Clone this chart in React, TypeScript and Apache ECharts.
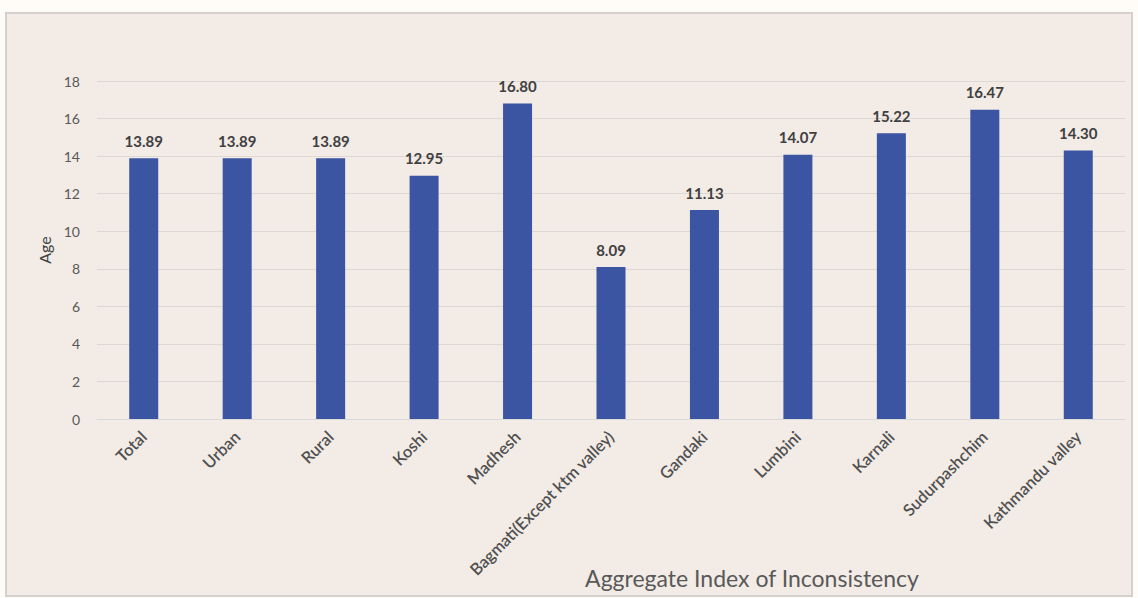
import React, { useEffect, useRef } from "react";
import * as echarts from "echarts";

const categories = [
  "Total",
  "Urban",
  "Rural",
  "Koshi",
  "Madhesh",
  "Bagmati(Except ktm valley)",
  "Gandaki",
  "Lumbini",
  "Karnali",
  "Sudurpashchim",
  "Kathmandu valley",
];
const values = [13.89, 13.89, 13.89, 12.95, 16.8, 8.09, 11.13, 14.07, 15.22, 16.47, 14.3];
const yTitle = "Age";
const xTitle = "Aggregate Index of Inconsistency";

export default function App() {
  const ref = useRef<HTMLDivElement>(null);
  useEffect(() => {
    document.body.style.margin = "0";
    const chart = echarts.init(ref.current!, null, { renderer: "svg" });
    const font = "Lato, 'Open Sans', sans-serif";
    chart.setOption({
      animation: false,
      backgroundColor: "#fffcf8",
      textStyle: { fontFamily: font },
      graphic: [
        {
          type: "rect",
          z: -10,
          shape: { x: 6, y: 13, width: 1126, height: 583 },
          style: { fill: "#f2ebe6", stroke: "#d4d0cc", lineWidth: 2 },
        },
        {
          type: "text",
          x: 752,
          y: 578,
          style: {
            text: xTitle,
            fontSize: 23,
            fill: "#595959",
            fontFamily: font,
            align: "center",
            verticalAlign: "middle",
          },
        },
      ],
      grid: { left: 97, right: 13, top: 81, bottom: 179, containLabel: false },
      xAxis: {
        type: "category",
        data: categories,
        axisTick: { show: false },
        axisLine: { show: true, lineStyle: { color: "#d9d9d9" } },
        axisLabel: {
          rotate: 45,
          interval: 0,
          fontSize: 16.5,
          fontWeight: 600,
          color: "#505050",
          margin: 15,
          fontFamily: font,
        },
      },
      yAxis: {
        type: "value",
        min: 0,
        max: 18,
        interval: 2,
        name: yTitle,
        nameLocation: "middle",
        nameGap: 42,
        nameTextStyle: { fontSize: 16, color: "#404040", fontFamily: font },
        axisLine: { show: false },
        axisTick: { show: false },
        axisLabel: { fontSize: 14, color: "#595959", margin: 17, fontFamily: font },
        splitLine: { lineStyle: { color: "#dcd8d4" } },
      },
      series: [
        {
          type: "bar",
          data: values,
          barWidth: 29,
          itemStyle: { color: "#3b55a2" },
          label: {
            show: true,
            position: "top",
            distance: 10,
            fontSize: 15,
            fontWeight: "bold",
            color: "#404040",
            fontFamily: font,
            formatter: (p: any) => Number(p.value).toFixed(2),
          },
        },
      ],
    });
    return () => chart.dispose();
  }, []);
  return <div ref={ref} style={{ width: 1138, height: 598 }} />;
}
